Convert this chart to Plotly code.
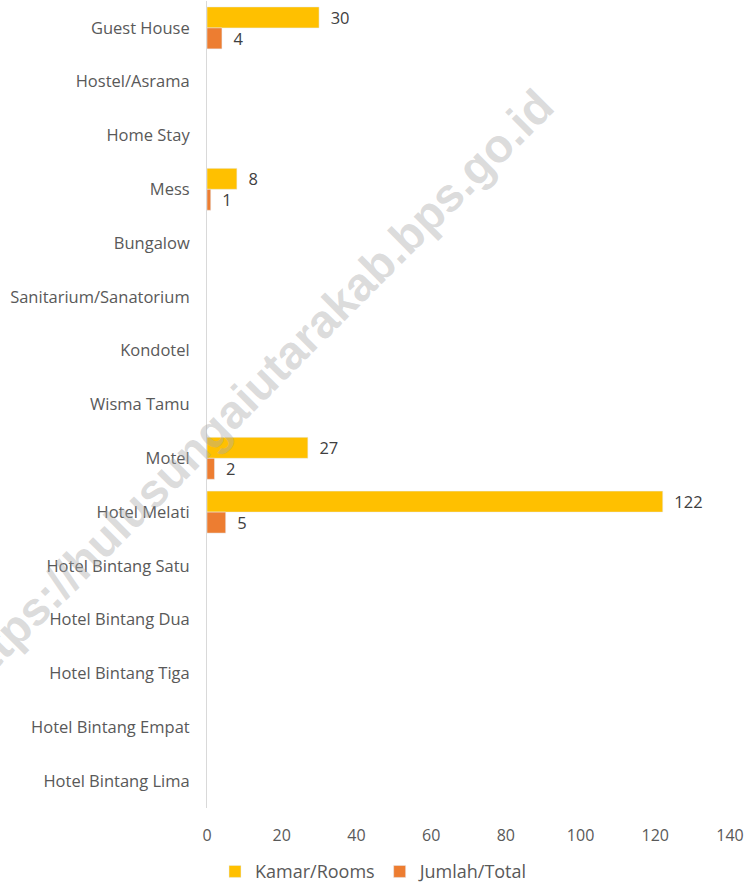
import plotly.graph_objects as go

categories = ["Guest House", "Hostel/Asrama", "Home Stay", "Mess", "Bungalow",
              "Sanitarium/Sanatorium", "Kondotel", "Wisma Tamu", "Motel", "Hotel Melati",
              "Hotel Bintang Satu", "Hotel Bintang Dua", "Hotel Bintang Tiga",
              "Hotel Bintang Empat", "Hotel Bintang Lima"]
kamar_rooms = [30, None, None, 8, None, None, None, None, 27, 122, None, None, None, None, None]
jumlah_total = [4, None, None, 1, None, None, None, None, 2, 5, None, None, None, None, None]
x_ticks = [0, 20, 40, 60, 80, 100, 120, 140]
watermark = "https://hulusungaiutarakab.bps.go.id"

FONT = "Open Sans"

def labels(vals):
    return ["" if v is None else "  " + str(v) for v in vals]

fig = go.Figure()
fig.add_trace(go.Bar(
    y=categories, x=kamar_rooms, orientation="h", name="Kamar/Rooms",
    marker=dict(color="#FFC000"), text=labels(kamar_rooms), textposition="outside",
    textfont=dict(family=FONT, size=16.5, color="#404040"), cliponaxis=False,
    constraintext="none",
))
fig.add_trace(go.Bar(
    y=categories, x=jumlah_total, orientation="h", name="Jumlah/Total",
    marker=dict(color="#ED7D31"), text=labels(jumlah_total), textposition="outside",
    textfont=dict(family=FONT, size=16.5, color="#404040"), cliponaxis=False,
    constraintext="none",
))

fig.add_annotation(
    text=watermark, xref="paper", yref="paper", x=0.088, y=0.518,
    xanchor="center", yanchor="middle",
    showarrow=False, textangle=-45,
    font=dict(family="Liberation Sans", size=47, color="rgba(170,170,170,0.42)", weight="bold"),
)

fig.update_layout(
    width=749, height=885,
    margin=dict(l=207, r=19, t=1, b=77),
    paper_bgcolor="white", plot_bgcolor="white",
    barmode="group", bargap=0.22, bargroupgap=0,
    font=dict(family=FONT, color="#595959", size=16),
    showlegend=True,
    legend=dict(orientation="h", xref="container", yref="container", x=0.5, y=0.015,
                xanchor="center", yanchor="middle", font=dict(size=18, color="#595959"),
                traceorder="normal"),
    xaxis=dict(range=[0, 140], tickvals=x_ticks, showgrid=False, zeroline=False,
               showline=False, ticks="", ticklabelstandoff=16,
               tickfont=dict(size=16, color="#595959")),
    yaxis=dict(type="category", categoryorder="array", categoryarray=categories,
               range=[len(categories) - 0.5, -0.5], showgrid=False, showline=True,
               linecolor="#d9d9d9", linewidth=1, ticks="", ticklabelstandoff=13,
               tickfont=dict(size=16.5, color="#595959")),
)

fig.write_html("out.html", config={"displayModeBar": False},
               post_script="document.body.style.margin='0';document.body.style.padding='0';")
